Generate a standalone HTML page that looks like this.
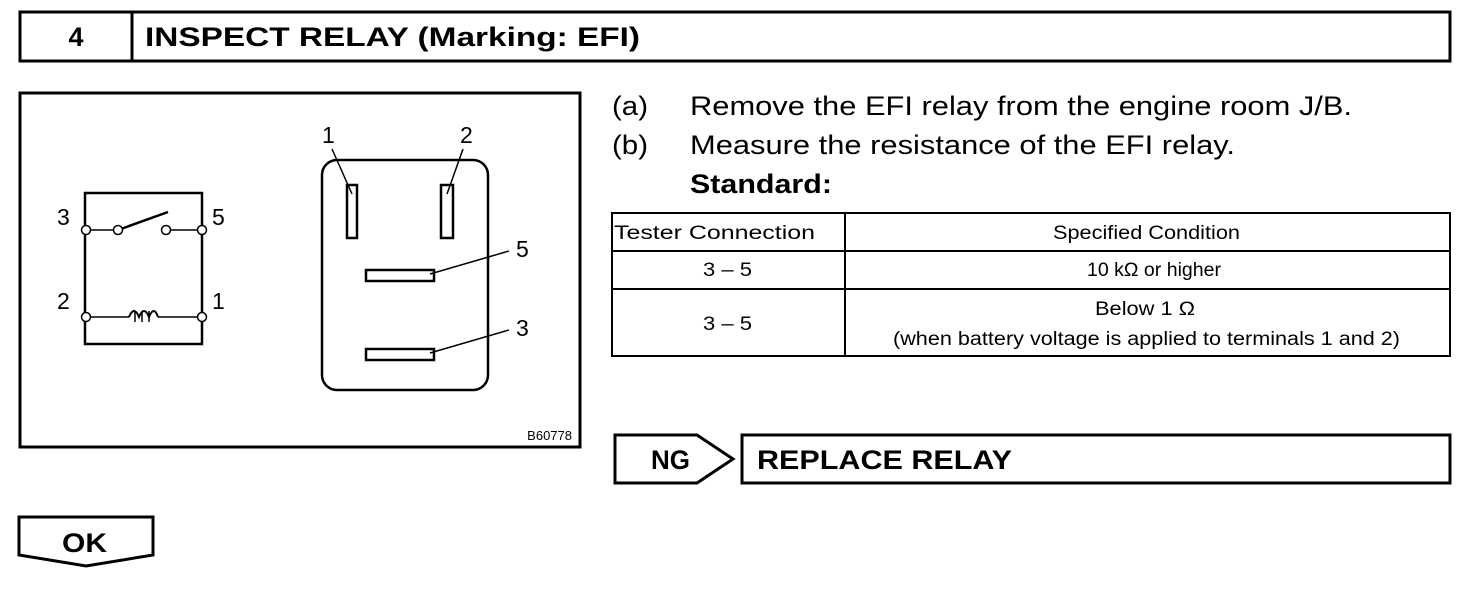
<!DOCTYPE html>
<html><head><style>
html,body{margin:0;padding:0;background:#fff;}
svg text{font-family:"Liberation Sans",Arial,sans-serif;fill:#000;}
</style></head><body>
<svg width="1472" height="590" viewBox="0 0 1472 590" xmlns="http://www.w3.org/2000/svg">
<g fill="none" stroke="#000" stroke-width="3">
<rect x="20" y="12" width="1430" height="49"/>
<line x1="132" y1="12" x2="132" y2="61"/>
<rect x="20" y="93" width="560" height="354"/>
</g>
<text x="76" y="46" font-size="27" font-weight="bold" text-anchor="middle">4</text>
<text x="145" y="46" font-size="27" font-weight="bold" textLength="495" lengthAdjust="spacingAndGlyphs">INSPECT RELAY (Marking: EFI)</text>

<!-- schematic -->
<g fill="none" stroke="#000" stroke-width="2.5">
<rect x="85" y="193" width="117" height="151"/>
</g>
<g stroke="#000" stroke-width="1.5" fill="#fff">
<line x1="86" y1="230" x2="118" y2="230"/>
<line x1="166" y1="230" x2="202" y2="230"/>
<line x1="86" y1="317" x2="129" y2="317"/>
<line x1="158" y1="317" x2="202" y2="317"/>
<line x1="118" y1="230" x2="168" y2="212" stroke-width="2.5"/>
<path d="M129 317 q5 -12 10 0 q5 -12 10 0 q5 -12 9 0" fill="none" stroke-width="2"/>
<path d="M135 311 v11 M142 311 v11 M149 311 v11" fill="none" stroke-width="1.5"/>
<circle cx="86" cy="230" r="4.5"/>
<circle cx="118" cy="230" r="4.5"/>
<circle cx="166" cy="230" r="4.5"/>
<circle cx="202" cy="230" r="4.5"/>
<circle cx="86" cy="317" r="4.5"/>
<circle cx="202" cy="317" r="4.5"/>
</g>
<g font-size="23">
<text x="57" y="225">3</text>
<text x="212" y="225">5</text>
<text x="57" y="309">2</text>
<text x="212" y="309">1</text>
</g>

<!-- relay body -->
<g fill="none" stroke="#000" stroke-width="2.5">
<rect x="322" y="160" width="166" height="230" rx="15"/>
<rect x="347" y="185" width="10" height="53"/>
<rect x="441" y="185" width="12" height="53"/>
<rect x="366" y="270" width="68" height="11"/>
<rect x="366" y="349" width="68" height="11"/>
</g>
<g stroke="#000" stroke-width="1.5">
<line x1="332" y1="149" x2="352" y2="194"/>
<line x1="463" y1="149" x2="447" y2="194"/>
<line x1="430" y1="274" x2="509" y2="251"/>
<line x1="430" y1="353" x2="509" y2="330"/>
</g>
<g font-size="23">
<text x="322" y="143">1</text>
<text x="460" y="143">2</text>
<text x="516" y="257">5</text>
<text x="516" y="336">3</text>
</g>
<text x="572" y="440" font-size="13" text-anchor="end">B60778</text>

<!-- instructions -->
<g font-size="27">
<text x="612" y="115" textLength="36" lengthAdjust="spacingAndGlyphs">(a)</text>
<text x="690" y="115" textLength="662" lengthAdjust="spacingAndGlyphs">Remove the EFI relay from the engine room J/B.</text>
<text x="612" y="154" textLength="36" lengthAdjust="spacingAndGlyphs">(b)</text>
<text x="690" y="154" textLength="545" lengthAdjust="spacingAndGlyphs">Measure the resistance of the EFI relay.</text>
<text x="690" y="193" font-weight="bold" textLength="142" lengthAdjust="spacingAndGlyphs">Standard:</text>
</g>

<!-- table -->
<g fill="none" stroke="#000" stroke-width="2">
<rect x="612" y="213" width="838" height="143"/>
<line x1="612" y1="251" x2="1450" y2="251"/>
<line x1="612" y1="289" x2="1450" y2="289"/>
<line x1="845" y1="213" x2="845" y2="356"/>
</g>
<g font-size="19">
<text x="614" y="239" textLength="201" lengthAdjust="spacingAndGlyphs">Tester Connection</text>
<text x="1053" y="239" textLength="187" lengthAdjust="spacingAndGlyphs">Specified Condition</text>
<text x="703" y="276" textLength="49" lengthAdjust="spacingAndGlyphs">3 – 5</text>
<text x="1087" y="276" textLength="134" lengthAdjust="spacingAndGlyphs">10 kΩ or higher</text>
<text x="703" y="330" textLength="49" lengthAdjust="spacingAndGlyphs">3 – 5</text>
<text x="1095" y="315" textLength="100" lengthAdjust="spacingAndGlyphs">Below 1 Ω</text>
<text x="893" y="345" textLength="507" lengthAdjust="spacingAndGlyphs">(when battery voltage is applied to terminals 1 and 2)</text>
</g>

<!-- NG -->
<g fill="none" stroke="#000" stroke-width="3">
<polygon points="615,435 697,435 733,459 697,483 615,483"/>
<rect x="742" y="435" width="708" height="48"/>
<polygon points="19,517 153,517 153,555 86,566 19,555"/>
</g>
<text x="651" y="469" font-size="27" font-weight="bold" textLength="39" lengthAdjust="spacingAndGlyphs">NG</text>
<text x="757" y="469" font-size="27" font-weight="bold" textLength="255" lengthAdjust="spacingAndGlyphs">REPLACE RELAY</text>
<text x="62" y="552" font-size="27" font-weight="bold" textLength="45" lengthAdjust="spacingAndGlyphs">OK</text>
</svg>
</body></html>
